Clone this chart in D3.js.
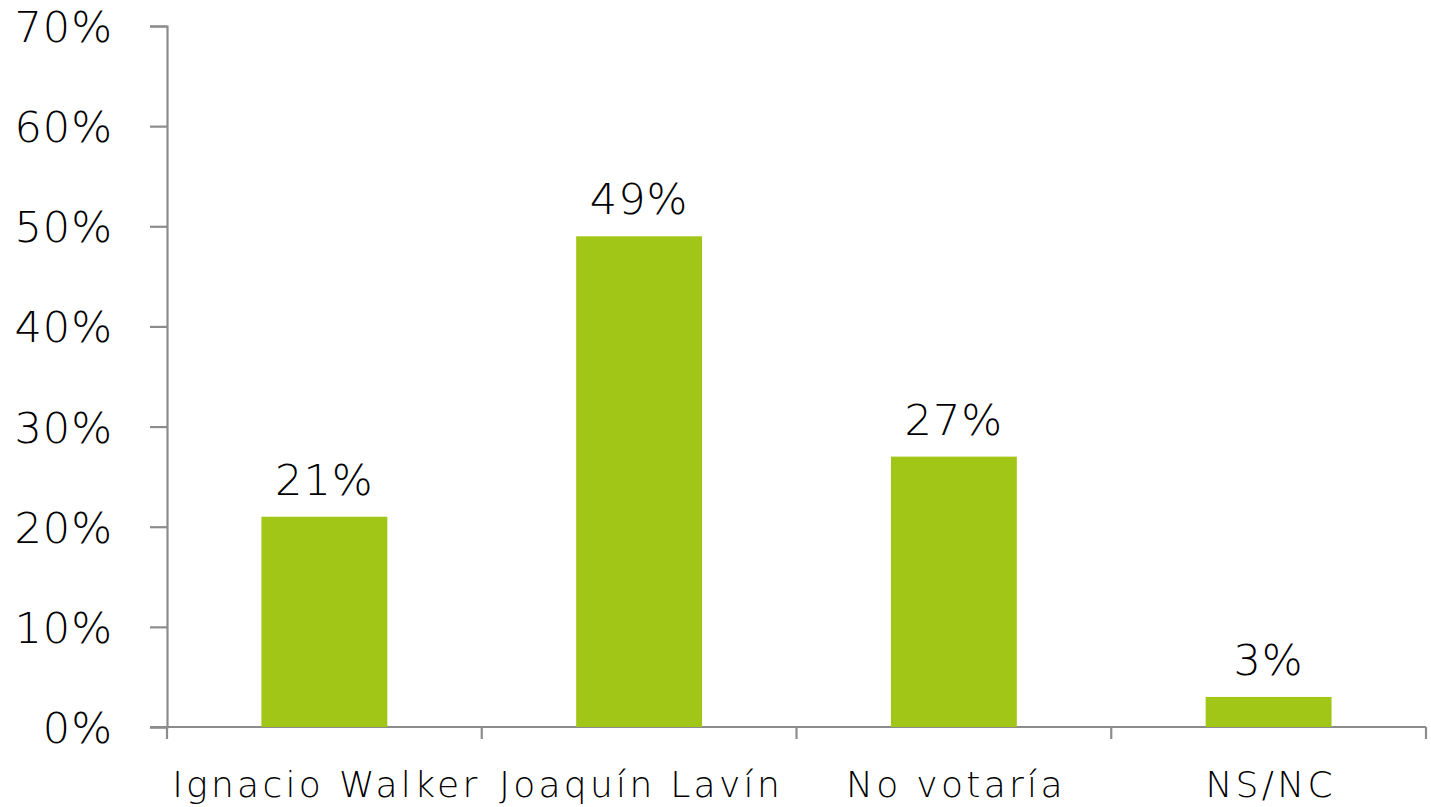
<!DOCTYPE html>
<html>
<head>
<meta charset="utf-8">
<script src="https://cdn.jsdelivr.net/npm/d3@7"></script>
<style>
  body { margin: 0; background: #fff; }
  svg { display: block; }
  text { font-family: "DejaVu Sans", sans-serif; font-weight: 200; fill: #000; }
</style>
</head>
<body>
<svg></svg>
<script>
// chart data
var categories = ["Ignacio Walker", "Joaquín Lavín", "No votaría", "NS/NC"];
var values = [0.21, 0.49, 0.27, 0.03];
var yTicks = [0, 0.1, 0.2, 0.3, 0.4, 0.5, 0.6, 0.7];

var screen =
{
  width: 1431,
  height: 807
}
var margins =
{
  top: 26,
  bottom: 80,
  left: 167,
  right: 5
}
var width = screen.width - margins.left - margins.right;
var height = screen.height - margins.top - margins.bottom;

var svg = d3.select('svg')
            .attr('width', screen.width)
            .attr('height', screen.height);

var xscale = d3.scaleBand()
              .domain(categories)
              .range([0, width])
              .paddingInner(0.6)
              .paddingOuter(0.3);
var yscale = d3.scaleLinear()
              .domain([0, 0.7])
              .range([height, 0]);

var plotLand = svg.append('g')
                  .attr("transform", "translate(" + margins.left + "," + margins.top + ")");

// y axis
var yAxis = d3.axisLeft(yscale)
              .tickValues(yTicks)
              .tickFormat(d3.format(".0%"))
              .tickSize(17)
              .tickPadding(37);
var yG = plotLand.append('g').call(yAxis);
yG.select('.domain').attr('stroke', '#8c8c8c').attr('stroke-width', 2.2);
yG.selectAll('.tick line').attr('stroke', '#8c8c8c').attr('stroke-width', 2.2);
yG.selectAll('.tick text')
  .style('font-size', '43px')
  .style('letter-spacing', '1px')
  .attr('dy', '0.36em');

// x axis (ticks between categories)
var step = xscale.step();
var bounds = d3.range(categories.length + 1).map(function(i) { return i * step; });
var xG = plotLand.append('g').attr('transform', 'translate(0,' + height + ')');
xG.append('line')
  .attr('x1', -17).attr('x2', width)
  .attr('stroke', '#8c8c8c').attr('stroke-width', 2.2);
xG.selectAll('.xtick')
  .data(bounds)
  .enter()
  .append('line')
  .attr('x1', function(d) { return d; })
  .attr('x2', function(d) { return d; })
  .attr('y1', 0).attr('y2', 12)
  .attr('stroke', '#8c8c8c').attr('stroke-width', 2.2);
xG.selectAll('.xlabel')
  .data(categories)
  .enter()
  .append('text')
  .attr('x', function(d) { return xscale(d) + xscale.bandwidth() / 2 + 2; })
  .attr('y', 70)
  .attr('text-anchor', 'middle')
  .style('font-size', '36px')
  .style('letter-spacing', '3.3px')
  .text(function(d) { return d; });

// bars
plotLand.selectAll('rect')
  .data(values)
  .enter()
  .append('rect')
  .attr('x', function(d, i) { return xscale(categories[i]); })
  .attr('y', function(d) { return yscale(d); })
  .attr('width', xscale.bandwidth())
  .attr('height', function(d) { return height - yscale(d); })
  .attr('fill', '#a2c617');

// value labels
plotLand.selectAll('.val')
  .data(values)
  .enter()
  .append('text')
  .attr('x', function(d, i) { return xscale(categories[i]) + xscale.bandwidth() / 2; })
  .attr('y', function(d) { return yscale(d) - 22; })
  .attr('text-anchor', 'middle')
  .style('font-size', '43px')
  .style('letter-spacing', '1px')
  .text(function(d) { return d3.format(".0%")(d); });
</script>
</body>
</html>
